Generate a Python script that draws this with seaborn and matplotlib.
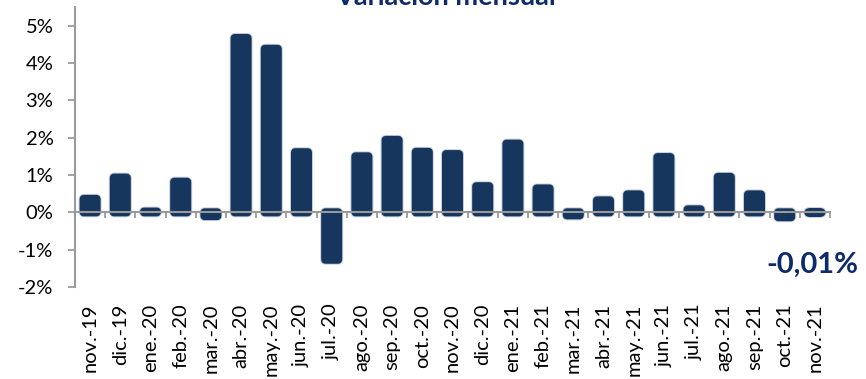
import numpy as np
import pandas as pd
import matplotlib
matplotlib.use("Agg")
import matplotlib.pyplot as plt
import matplotlib.patheffects as pe
from matplotlib.ticker import FuncFormatter
import seaborn as sns

# Monthly variation (%), Nov 2019 - Nov 2021
months = ["nov.-19", "dic.-19", "ene.-20", "feb.-20", "mar.-20", "abr.-20",
          "may.-20", "jun.-20", "jul.-20", "ago.-20", "sep.-20", "oct.-20",
          "nov.-20", "dic.-20", "ene.-21", "feb.-21", "mar.-21", "abr.-21",
          "may.-21", "jun.-21", "jul.-21", "ago.-21", "sep.-21", "oct.-21",
          "nov.-21"]
variation = [0.36, 0.93, 0.02, 0.82, -0.10, 4.67,
             4.38, 1.61, -1.27, 1.50, 1.94, 1.62,
             1.56, 0.70, 1.84, 0.64, -0.08, 0.32,
             0.48, 1.48, 0.08, 0.95, 0.48, -0.13,
             -0.01]
y_ticks = [-2, -1, 0, 1, 2, 3, 4, 5]

title_text = "Variación mensual"

BAR = "#17365d"
NAVY = "#0d2a6b"
GRAY = "#9a9a9a"

sns.set_theme(style="white")
plt.rcParams["font.family"] = ["Lato", "DejaVu Sans"]
# keep very short bars as full rectangles so their rounded outline stays intact
plt.rcParams["path.simplify"] = False

df = pd.DataFrame({"mes": months, "var": variation})

W, H = 866, 379
fig = plt.figure(figsize=(W / 100, H / 100), dpi=100)
ax = fig.add_axes([75 / W, 92 / H, 755 / W, 280 / H])

sns.barplot(data=df, x="mes", y="var", color=BAR, saturation=1,
            width=0.43, ax=ax, zorder=2)

# Rounded bar ends: thick same-colour outline with round joins and a soft halo
for p in ax.patches:
    p.set_edgecolor(BAR)
    p.set_linewidth(5.8)
    p.set_joinstyle("round")
    p.set_snap(False)
    p.set_path_effects([pe.Stroke(linewidth=7.2, foreground="#c8d1de",
                                  joinstyle="round"),
                        pe.Normal()])

ymin, ymax = -2, 5.5
ax.set_ylim(ymin, ymax)
ax.set_xlim(-0.5, len(months) - 0.5)
ax.set_xlabel("")
ax.set_ylabel("")

# Y axis
ax.set_yticks(y_ticks)
ax.yaxis.set_major_formatter(FuncFormatter(lambda v, _: f"{v:.0f}%"))
ax.tick_params(axis="y", direction="out", length=5, width=1.3, color=GRAY,
               pad=10.5, labelsize=14.5, labelcolor="black", left=True)

# X labels along the bottom of the plot, no tick marks there
ax.set_xticks(range(len(months)))
ax.set_xticklabels(months, rotation=90)
ax.tick_params(axis="x", length=0, pad=12, labelsize=14.5, labelcolor="black")

for side in ["top", "right", "bottom"]:
    ax.spines[side].set_visible(False)
ax.spines["left"].set_color(GRAY)
ax.spines["left"].set_linewidth(1.5)

# Category axis sitting on the zero line, ticks between categories
zero_frac = (0 - ymin) / (ymax - ymin)
sec = ax.secondary_xaxis(zero_frac)
sec.set_zorder(5)
sec.set_xticks(np.arange(-0.5, len(months), 1.0))
sec.set_xticklabels([])
sec.tick_params(axis="x", direction="out", length=4.5, width=1.3, color=GRAY)
sec.spines["bottom"].set_color(GRAY)
sec.spines["bottom"].set_linewidth(1.5)
for side in ["top", "left", "right"]:
    if side in sec.spines:
        sec.spines[side].set_visible(False)

# Title (partially above the canvas)
fig.text(446 / W, 1 - 5 / H, title_text, ha="center", va="baseline",
         fontsize=19.5, fontweight="bold", color=NAVY)

# Latest value callout
last_label = f"{variation[-1]:.2f}%".replace(".", ",")
fig.text(858 / W, 1 - 273 / H, last_label, ha="right", va="baseline",
         fontsize=21, fontweight="bold", color=NAVY)

fig.savefig("out.png", dpi=100)
